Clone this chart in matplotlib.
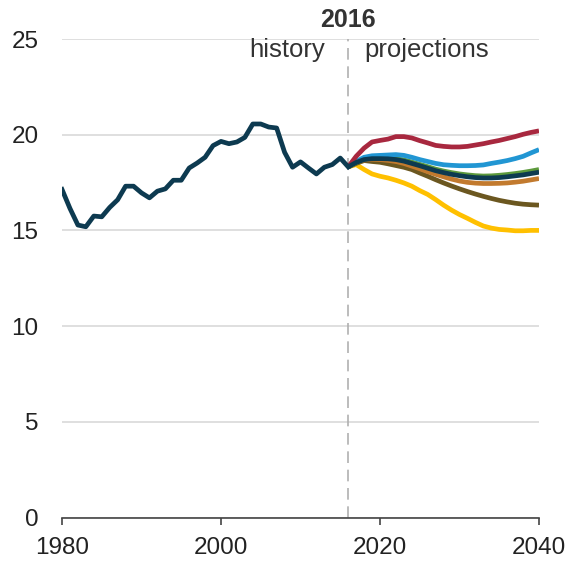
import matplotlib
matplotlib.use("Agg")
import matplotlib.pyplot as plt

plt.rcParams['font.family'] = ['Liberation Sans', 'DejaVu Sans']

hist_years = list(range(1980, 2017))
hist_vals = [17.14, 16.15, 15.28, 15.19, 15.75, 15.71, 16.2, 16.6, 17.31, 17.31,
             16.96, 16.7, 17.05, 17.17, 17.62, 17.62, 18.26, 18.52, 18.82, 19.43,
             19.65, 19.53, 19.62, 19.86, 20.56, 20.56, 20.4, 20.35, 19.08, 18.3,
             18.58, 18.26, 17.95, 18.3, 18.44, 18.78, 18.32]

proj_years = list(range(2016, 2041))
red_vals = [18.32, 18.87, 19.3, 19.62, 19.7, 19.77, 19.9, 19.9, 19.83, 19.69,
            19.57, 19.44, 19.39, 19.36, 19.36, 19.39, 19.46, 19.53, 19.62, 19.7,
            19.8, 19.9, 20.02, 20.12, 20.2]
blue_vals = [18.32, 18.6, 18.82, 18.9, 18.92, 18.94, 18.96, 18.92, 18.82, 18.7,
             18.6, 18.5, 18.43, 18.4, 18.38, 18.38, 18.39, 18.42, 18.5, 18.57,
             18.65, 18.75, 18.87, 19.05, 19.22]
green_vals = [18.32, 18.55, 18.72, 18.78, 18.8, 18.78, 18.75, 18.68, 18.57, 18.45,
              18.33, 18.2, 18.1, 18.02, 17.95, 17.9, 17.86, 17.84, 17.85, 17.88,
              17.92, 17.97, 18.03, 18.1, 18.18]
navy_vals = [18.32, 18.55, 18.7, 18.75, 18.75, 18.74, 18.7, 18.62, 18.5, 18.38,
             18.25, 18.12, 18.02, 17.93, 17.86, 17.8, 17.76, 17.74, 17.74, 17.76,
             17.8, 17.85, 17.9, 17.97, 18.04]
orange_vals = [18.32, 18.55, 18.68, 18.72, 18.7, 18.66, 18.6, 18.5, 18.36, 18.22,
               18.07, 17.93, 17.8, 17.68, 17.58, 17.51, 17.47, 17.45, 17.45, 17.46,
               17.48, 17.52, 17.57, 17.64, 17.71]
olive_vals = [18.32, 18.5, 18.65, 18.6, 18.56, 18.48, 18.39, 18.3, 18.18, 18.0,
              17.83, 17.65, 17.48, 17.32, 17.17, 17.03, 16.9, 16.78, 16.67, 16.57,
              16.49, 16.42, 16.37, 16.34, 16.32]
yellow_vals = [18.32, 18.44, 18.18, 17.95, 17.83, 17.74, 17.62, 17.48, 17.31, 17.08,
               16.88, 16.61, 16.32, 16.06, 15.83, 15.63, 15.42, 15.23, 15.12, 15.05,
               15.02, 14.98, 14.98, 15.0, 15.0]

y_ticks = [0, 5, 10, 15, 20, 25]
x_ticks = [1980, 2000, 2020, 2040]

fig = plt.figure(figsize=(5.69, 5.61), dpi=100)
ax = fig.add_axes([62/569, 1 - 517.5/561, 477/569, 478.5/561])

lw = 3.4
ax.plot(proj_years, yellow_vals, color='#ffc000', lw=lw, solid_capstyle='butt', zorder=3)
ax.plot(proj_years, olive_vals, color='#6b5720', lw=lw, solid_capstyle='butt', zorder=3)
ax.plot(proj_years, orange_vals, color='#c27a2e', lw=lw, solid_capstyle='butt', zorder=3)
ax.plot(proj_years, green_vals, color='#5d9a3c', lw=lw, solid_capstyle='butt', zorder=3)
ax.plot(proj_years, blue_vals, color='#2196d3', lw=lw, solid_capstyle='butt', zorder=3)
ax.plot(proj_years, red_vals, color='#a8283f', lw=lw, solid_capstyle='butt', zorder=3)
ax.plot(proj_years, navy_vals, color='#0d3a50', lw=lw, solid_capstyle='butt', zorder=4)
ax.plot(hist_years, hist_vals, color='#0d3a50', lw=lw, solid_joinstyle='round', zorder=5)

ax.axvline(2016, color='#b0b0b0', lw=1.2, ls=(0, (7, 4)), zorder=2)

ax.set_xlim(1980, 2040)
ax.set_ylim(0, 25)
ax.set_yticks(y_ticks)
ax.set_xticks(x_ticks)
ax.grid(axis='y', color='#d9d9d9', lw=1.2)
ax.set_axisbelow(True)
for s in ['top', 'right', 'left']:
    ax.spines[s].set_visible(False)
ax.spines['bottom'].set_color('#444444')
ax.spines['bottom'].set_linewidth(1.2)
ax.tick_params(axis='y', length=0, pad=17, labelsize=17.5, labelcolor='#222222')
ax.tick_params(axis='x', length=5, width=1.2, color='#444444', pad=9, labelsize=17.5, labelcolor='#222222')

ax.text(2016, 25.63, '2016', ha='center', va='baseline', fontsize=18,
        fontweight='bold', color='#333333', clip_on=False)
ax.text(2013.1, 24.05, 'history', ha='right', va='baseline', fontsize=18.5, color='#333333')
ax.text(2018.0, 24.05, 'projections', ha='left', va='baseline', fontsize=18.5, color='#333333')

fig.savefig('out.png', dpi=100)
